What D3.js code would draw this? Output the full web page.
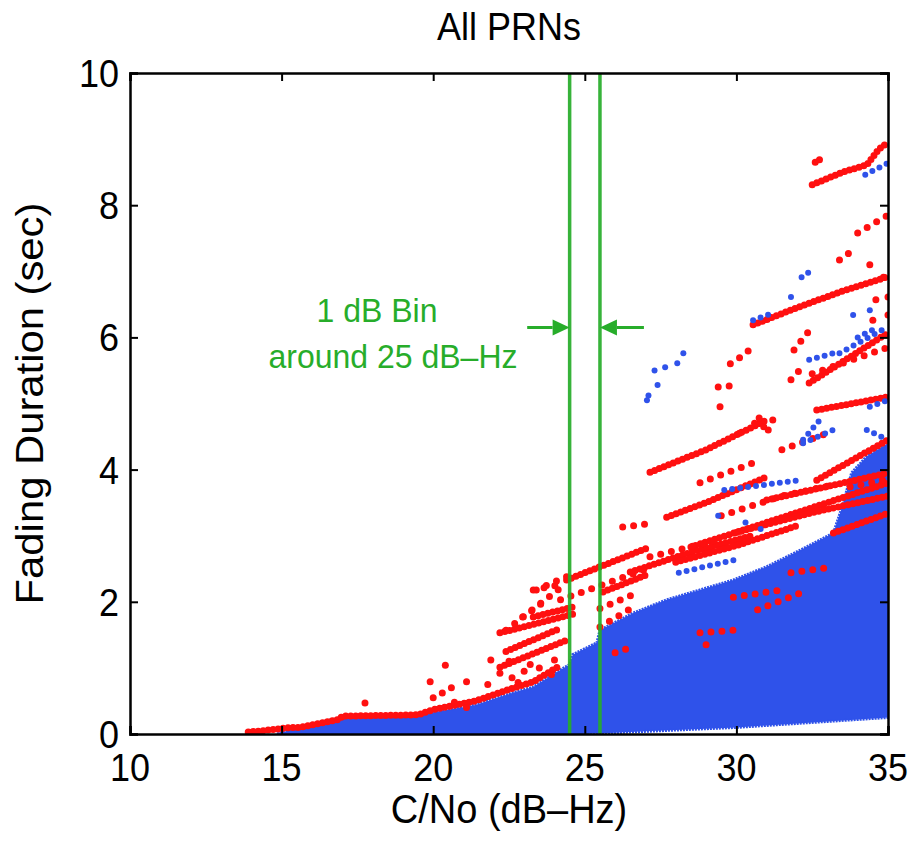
<!DOCTYPE html>
<html>
<head>
<meta charset="utf-8">
<script src="https://cdn.jsdelivr.net/npm/d3@7"></script>
<style>
  body { margin: 0; background: #fff; }
  text { font-family: "Liberation Sans", Arial, Helvetica, sans-serif; }
</style>
</head>
<body>
<div id="chart"></div>
<script>
// axis ticks
const xTicks = [10, 15, 20, 25, 30, 35];
const yTicks = [0, 2, 4, 6, 8, 10];
const binEdges = [24.5, 25.5];
const arrowLevel = 6.15;

// dense blue cloud: upper and lower envelope (C/No, sec)
const blueTop = [[14.85,0],[15.3,0.06],[15.8,0.12],[16.5,0.2],[16.9,0.24],[19.5,0.26],[20,0.33],[21.4,0.44],[22.6,0.62],[23.3,0.71],[24.2,0.97],[24.5,1.05],[24.6,1.2],[25.4,1.38],[25.5,1.57],[26.6,1.83],[27.7,2.03],[28.8,2.18],[29.9,2.33],[31,2.53],[32.1,2.78],[33.2,3.04],[33.5,3.45],[33.8,3.95],[34.3,4.2],[35,4.4]];
const blueBottom = [[14.85,0],[25,0],[26,0.02],[27,0.04],[28,0.06],[29,0.08],[30,0.1],[31,0.13],[32,0.16],[33,0.19],[34,0.22],[35,0.25]];

// red points hugging the top of the cloud at low C/No
const redEdge = [[13.9,0.03],[14.4,0.05],[15.3,0.1],[15.6,0.1],[16.9,0.22],[17,0.27],[19.5,0.29],[20,0.37],[21.4,0.5],[22.6,0.69],[23.3,0.79],[24.2,1.04]];

// red streaks (dense)
const redTracks = [
  [[32.5,8.31],[33.5,8.5],[34.3,8.61],[34.7,8.85],[35,8.95]],
  [[32.6,8.65],[32.85,8.72]],
  [[30.55,6.19],[32,6.45],[33.5,6.7],[35,6.92]],
  [[27.15,3.96],[29,4.3],[31,4.75]],
  [[32.65,4.9],[35,5.1]],
  [[32.4,5.31],[35,6.07]],
  [[32.65,3.84],[35,4.45]],
  [[31,3.54],[35,3.95]],
  [[28.5,2.83],[31,3.2],[33,3.5],[35,3.8]],
  [[27.7,3.28],[29,3.5],[31,3.89]],
  [[22.2,1.01],[24.4,1.42]],
  [[22.2,1.53],[24.75,1.83]],
  [[24.4,2.33],[27.15,2.83]],
  [[33.2,3.04],[35,3.34]],
  [[26.5,2.45],[28.5,2.75],[30.5,3.0]],
  [[28,2.6],[30,2.85],[32,3.15]],
  [[30,3.05],[32.5,3.35],[35,3.6]],
  [[25.6,2.15],[27,2.4]],
  [[23.3,1.77],[24.6,1.92]],
  [[22.4,1.25],[24.2,1.6]]
];
// red streaks (sparse dots)
const redDotted = [
  [[34,7.58],[35,7.85]],
  [[33.4,7.17],[33.85,7.32]],
  [[29.8,5.6],[30.3,5.75],[30.6,5.9]],
  [[29.4,5.25],[30.1,5.28]],
  [[31.9,5.81],[32.5,6.16]],
  [[31.8,5.36],[32.1,5.51]],
  [[28.8,3.8],[30.55,4.1]],
  [[26.25,3.13],[27.25,3.19]],
  [[27.15,2.68],[29.35,2.93]],
  [[22.4,1.57],[24.4,2.28]],
  [[23.4,2.18],[24.4,2.38]],
  [[24.2,2.03],[27.25,2.53]],
  [[25.5,1.62],[26.6,1.92]],
  [[29.9,2.07],[31.5,2.18]],
  [[31.8,2.44],[33.2,2.53]],
  [[33.75,3.74],[34.85,3.84]],
  [[28.8,1.53],[29.9,1.57]],
  [[30.7,1.88],[32.1,2.13]],
  [[26,1.23],[26.6,1.32]],
  [[22.95,1.77],[23.75,2.03]],
  [[23.3,2.18],[24.1,2.25]],
  [[29.5,3.3],[31.5,3.6],[33,3.75]],
  [[25.5,1.9],[26.8,2.15]],
  [[32.5,5.45],[35,5.85]],
  [[31.5,4.3],[33,4.55]]
];
const redDots = [[34.4,7.1],[29.46,4.95],[30.1,4.55],[30.6,4.7],[31.2,4.75],[34.5,6.26],[35,6.34],[34.6,6.57],[35,6.61],[34.85,6.91],[17.75,0.47],[19.9,0.79],[20.4,1.04],[20,0.55],[20.3,0.62],[20.7,0.48],[21.1,0.4],[21.1,0.79],[20.6,0.7],[21.8,0.75],[22.2,0.92],[22.6,0.85],[23,0.95],[23.5,1.0],[21.9,1.12],[22.5,1.1],[23.2,1.05],[23.9,0.9],[22.8,0.78],[24.0,1.12],[29,1.35],[30.9,4.65],[30.75,4.78],[31.05,4.6]];

// blue streaks and isolated points
const blueTracks = [
  [[34.25,8.46],[35,8.64]],
  [[32.15,6.91],[32.4,6.99]],
  [[30.55,6.26],[31.2,6.37]],
  [[32.4,5.66],[33.2,5.76]],
  [[33.4,5.76],[35,6.16]],
  [[34,6.0],[34.6,6.14]],
  [[32.2,4.45],[32.75,4.75]],
  [[34.4,4.95],[35,5.05]],
  [[34.3,4.6],[35,4.45]],
  [[29.6,3.69],[32.1,3.84]],
  [[28.1,2.44],[29.9,2.63]],
  [[32.2,4.4],[33.2,4.6]]
];
const blueDots = [[31.8,6.61],[27.05,5.05],[27.1,5.12],[27.4,5.28],[27.3,5.5],[27.65,5.55],[28.05,5.61],[28.25,5.76],[33.85,6.34],[34.4,6.41],[30.3,3.2],[30.8,3.1],[29.4,3.3]];

const width = 915, height = 846;
const x = d3.scaleLinear().domain([10, 35]).range([130, 888]);
const y = d3.scaleLinear().domain([0, 10]).range([734, 73]);

const red = "#ff1010", blue = "#2f52ea", green = "#27ad2a";

const svg = d3.select("#chart").append("svg")
  .attr("width", width).attr("height", height)
  .style("background", "#fff");

svg.append("clipPath").attr("id", "plot")
  .append("rect")
  .attr("x", x(10)).attr("y", y(10))
  .attr("width", x(35) - x(10)).attr("height", y(0) - y(10));

const data = svg.append("g").attr("clip-path", "url(#plot)");
const line = d3.line().x(d => x(d[0])).y(d => y(d[1]));

// blue cloud
data.append("path")
  .attr("d", line(blueTop.concat(blueBottom.slice().reverse())) + "Z")
  .attr("fill", blue).attr("stroke", blue).attr("stroke-width", 3)
  .attr("stroke-dasharray", "2 1");

data.append("path").attr("d", line(redEdge))
  .attr("fill", "none").attr("stroke", red).attr("stroke-width", 7)
  .attr("stroke-linecap", "round").attr("stroke-dasharray", "0 5");

data.selectAll(".rt").data(redTracks).enter().append("path")
  .attr("class", "rt").attr("d", line)
  .attr("fill", "none").attr("stroke", red).attr("stroke-width", 7)
  .attr("stroke-linecap", "round").attr("stroke-dasharray", "0 5");

data.selectAll(".rd").data(redDotted).enter().append("path")
  .attr("class", "rd").attr("d", line)
  .attr("fill", "none").attr("stroke", red).attr("stroke-width", 7)
  .attr("stroke-linecap", "round").attr("stroke-dasharray", "0 11");

data.selectAll(".rdot").data(redDots).enter().append("circle")
  .attr("class", "rdot").attr("cx", d => x(d[0])).attr("cy", d => y(d[1]))
  .attr("r", 3.5).attr("fill", red);

data.selectAll(".bt").data(blueTracks).enter().append("path")
  .attr("class", "bt").attr("d", line)
  .attr("fill", "none").attr("stroke", blue).attr("stroke-width", 6)
  .attr("stroke-linecap", "round").attr("stroke-dasharray", "0 8");

data.selectAll(".bdot").data(blueDots).enter().append("circle")
  .attr("class", "bdot").attr("cx", d => x(d[0])).attr("cy", d => y(d[1]))
  .attr("r", 3).attr("fill", blue);

// bin edges
data.selectAll(".bin").data(binEdges).enter().append("line")
  .attr("class", "bin")
  .attr("x1", d => x(d)).attr("x2", d => x(d))
  .attr("y1", y(10)).attr("y2", y(0))
  .attr("stroke", green).attr("stroke-width", 3.5).attr("opacity", 0.92);

// axes box with inward ticks
const tickLen = 8;
svg.append("g").attr("transform", `translate(0,${y(0)})`)
  .call(d3.axisBottom(x).tickValues(xTicks).tickSize(-tickLen).tickFormat(""));
svg.append("g").attr("transform", `translate(0,${y(10)})`)
  .call(d3.axisTop(x).tickValues(xTicks).tickSize(-tickLen).tickFormat(""));
svg.append("g").attr("transform", `translate(${x(10)},0)`)
  .call(d3.axisLeft(y).tickValues(yTicks).tickSize(-tickLen).tickFormat(""));
svg.append("g").attr("transform", `translate(${x(35)},0)`)
  .call(d3.axisRight(y).tickValues(yTicks).tickSize(-tickLen).tickFormat(""));
svg.selectAll(".domain").attr("stroke", "#000").attr("stroke-width", 2.5);
svg.selectAll(".tick line").attr("stroke", "#000").attr("stroke-width", 2);

// arrows pointing at the bin edges
const arrows = [{from: 23.1, to: binEdges[0]}, {from: 26.95, to: binEdges[1]}];
arrows.forEach(a => {
  const x0 = x(a.from), x1 = x(a.to), yy = y(arrowLevel);
  const dir = Math.sign(x1 - x0), head = 17, half = 8;
  svg.append("line")
    .attr("x1", x0).attr("x2", x1 - dir * head).attr("y1", yy).attr("y2", yy)
    .attr("stroke", green).attr("stroke-width", 3);
  svg.append("path")
    .attr("d", `M${x1},${yy}L${x1 - dir * head},${yy - half}L${x1 - dir * head},${yy + half}Z`)
    .attr("fill", green);
});

// text helper: slight vertical stretch like the original
function label(px, py, str, size, anchor, color, sy) {
  svg.append("text")
    .attr("transform", `translate(${px},${py}) scale(1,${sy})`)
    .attr("text-anchor", anchor)
    .attr("font-size", size)
    .attr("fill", color)
    .text(str);
}

xTicks.forEach(t => label(x(t), 781, t, 36, "middle", "#000", 1.08));
yTicks.forEach(t => label(119, y(t) + 14, t, 36, "end", "#000", 1.08));

label(509, 40, "All PRNs", 36, "middle", "#000", 1.08);
label(509, 823, "C/No (dB\u2013Hz)", 38, "middle", "#000", 1.05);

svg.append("text")
  .attr("transform", `translate(43,${(y(0) + y(10)) / 2}) rotate(-90) scale(1.1,1)`)
  .attr("text-anchor", "middle")
  .attr("font-size", 38)
  .text("Fading Duration (sec)");

label(377, 322, "1 dB Bin", 32, "middle", green, 1.05);
label(393, 368, "around 25 dB\u2013Hz", 32, "middle", green, 1.05);
</script>
</body>
</html>
